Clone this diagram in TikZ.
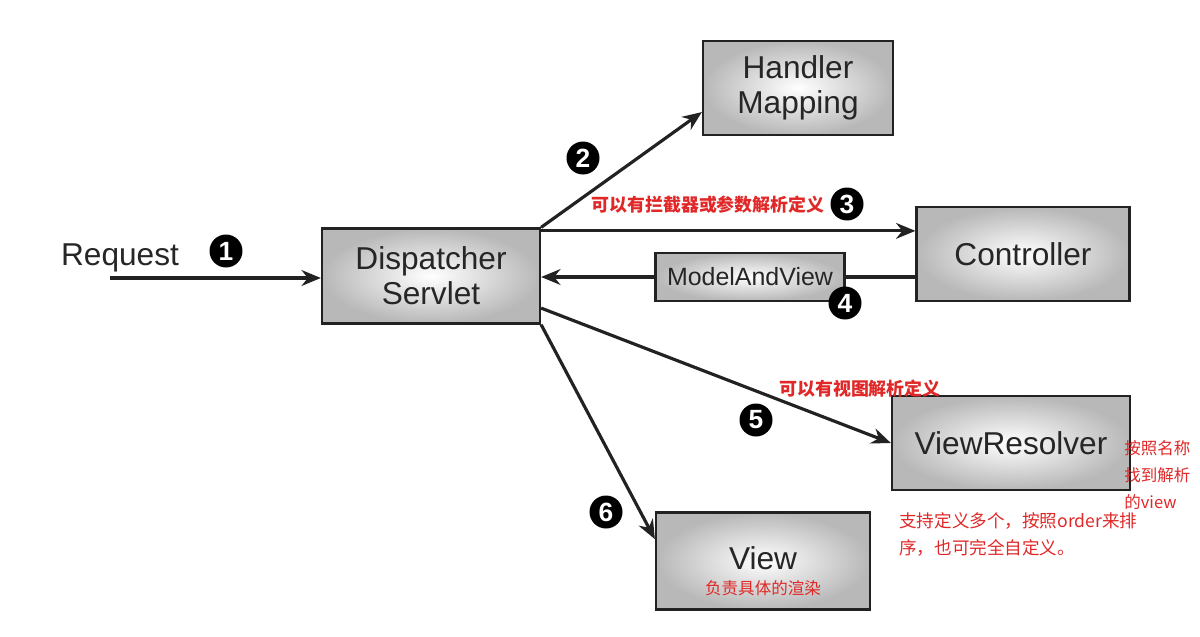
\documentclass[tikz,border=0pt]{standalone}
\usepackage{fontspec}
\setmainfont{Liberation Sans}
\newfontfamily\cjk{Noto Sans CJK SC}
\usetikzlibrary{arrows.meta,calc,shadings}
\definecolor{ink}{HTML}{222222}
\definecolor{note}{HTML}{E02828}
\tikzset{
    box/.style =    {rectangle,
                    inner color=white,
                    outer color=black!28,
                    draw=ink,
                    line width=1.3pt,
                    text=black!85,
                    align=center,
                    font=\fontsize{18}{20}\selectfont},
    small/.style =  {box,
                    font=\fontsize{14.2}{16}\selectfont},
    num/.style =    {circle,
                    fill=black,
                    text=white,
                    inner sep=0pt,
                    minimum size=0.66cm,
                    font=\fontsize{15}{15}\selectfont\bfseries},
    hint/.style =   {text=note,
                    font=\cjk\fontsize{10.2}{12}\selectfont\bfseries},
    remark/.style = {text=note,
                    align=left,
                    inner sep=0pt,
                    font=\cjk\fontsize{9.4}{15.3}\selectfont},
    arr/.style =    {draw=ink,
                    line width=1.8pt,
                    -{Stealth[length=11pt,width=9pt]}},
    wire/.style =   {draw=ink,
                    line width=2pt}}

\begin{document}
\begin{tikzpicture}[x=0.02cm,y=-0.02cm]
                \useasboundingbox (0,0) rectangle (1200,636);
                % boxes
                \node[box, minimum width=4.36cm, minimum height=1.9cm]  (disp) at (431,276) {Dispatcher\\Servlet};
                \node[box, minimum width=3.8cm, minimum height=1.88cm]  (hm)   at (798,88)  {Handler\\Mapping};
                \node[box, minimum width=4.26cm, minimum height=1.88cm] (ctrl) at (1023,254) {Controller};
                \node[box, minimum width=4.76cm, minimum height=1.88cm] (vr)   at (1011,443) {ViewResolver};
                \node[box, minimum width=4.28cm, minimum height=1.94cm] (view) at (763,561) {};
                \node[font=\fontsize{18}{20}\selectfont, text=black!85] (viewlbl) at (763,558) {View};
                \node[remark] (viewnote) at (763,588) {负责具体的渲染};
                % request
                \node[font=\fontsize{18}{20}\selectfont, text=black!85] (req) at (120,258) {Request};
                \coordinate (reqstart) at (110,278);
                \draw[arr] (reqstart) -- (disp.west |- reqstart);
                % connectors
                \coordinate (from3) at ([yshift=-2pt]disp.north east);
                \draw[arr] (disp.north east) -- ($(hm.south west)!0.25!(hm.north west)$);
                \draw[arr] (from3) -- (ctrl.west |- from3);
                \draw[arr] ($(disp.south east)!0.17!(disp.north east)$) -- (vr.west);
                \draw[arr] (disp.south east) -- ($(view.north west)!0.28!(view.south west)$);
                \node[small, minimum width=3.78cm, minimum height=0.96cm, inner sep=2pt] (mav) at (750,277) {ModelAndView};
                \draw[wire] (ctrl.west |- mav.east) -- (mav.east);
                \draw[arr] (mav.west) -- (disp.east |- mav.west);
                % step numbers
                \node[num] (n1) at (226,251) {1};
                \node[num] (n2) at (583,158) {2};
                \node[num] (n3) at (847,204) {3};
                \node[num] (n4) at (845,303) {4};
                \node[num] (n5) at (756,420) {5};
                \node[num] (n6) at (606,512) {6};
                % notes
                \node[hint] (h3) at (708,205) {可以有拦截器或参数解析定义};
                \node[hint] (h5) at (860,389) {可以有视图解析定义};
                \node[remark, anchor=north west] (vrname) at (1124,440) {按照名称\\找到解析\\的view};
                \node[remark, anchor=north west, font=\cjk\fontsize{10}{15.3}\selectfont] (vrorder) at (899,512) {支持定义多个，按照order来排\\序，也可完全自定义。};
        \end{tikzpicture}
\end{document}
